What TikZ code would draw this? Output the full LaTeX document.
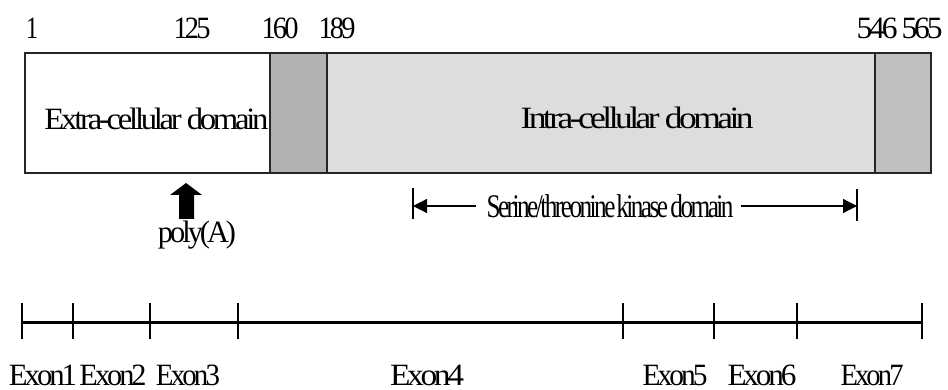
\documentclass[tikz,border=0pt]{standalone}
\usepackage{fontspec}
\setmainfont[LetterSpace=-10]{Liberation Serif}
\usetikzlibrary{arrows.meta}
\definecolor{tmgray}{HTML}{B2B2B2}
\definecolor{tailgray}{HTML}{C0C0C0}
\definecolor{intragray}{HTML}{DDDDDD}
\newcommand{\fitw}[2]{\resizebox{#1}{\height}{#2}}
\tikzset{
  lbl/.style={inner sep=0pt, anchor=base, font=\fontsize{31}{37}\selectfont},
  biglbl/.style={lbl, font=\fontsize{33}{39}\selectfont},
  dombox/.style={draw=black!85, line width=1.3pt},
  tick/.style={line width=1.6pt},
  gene/.style={line width=3pt},
  dimarrow/.style={line width=1.2pt, -{Triangle[length=14pt,width=14pt]}},
  bar/.style={line width=1.3pt}
}
\begin{document}
\begin{tikzpicture}[x=1pt,y=-1pt]
\useasboundingbox (0,0) rectangle (948,390);
% position numbers
\node[lbl] (n1)   at (32,39)  {\fitw{12pt}{1}};
\node[lbl] (n125) at (192,39) {\fitw{37pt}{125}};
\node[lbl] (n160) at (280,39) {\fitw{37pt}{160}};
\node[lbl] (n189) at (337,39) {\fitw{37pt}{189}};
\node[lbl] (n546) at (877,39) {\fitw{41pt}{546}};
\node[lbl] (n565) at (922,39) {\fitw{41pt}{565}};
% domain boxes
\filldraw[dombox, fill=white]      (25,53)  rectangle (270,173);
\filldraw[dombox, fill=tmgray]     (270,53) rectangle (327,173);
\filldraw[dombox, fill=intragray]  (327,53) rectangle (875,173);
\filldraw[dombox, fill=tailgray]   (875,53) rectangle (931,173);
\node[lbl] (extra) at (156.5,130) {\fitw{224pt}{Extra-cellular domain}};
\node[lbl] (intra) at (637,129)   {\fitw{233pt}{Intra-cellular domain}};
% poly(A) arrow
\fill[black] (186,183) -- (202,195) -- (194,195) -- (194,219) -- (179,219) -- (179,195) -- (170,195) -- cycle;
\node[lbl] (polyA) at (197,243) {\fitw{78pt}{poly(A)}};
% kinase domain
\coordinate (kL) at (413,206);
\coordinate (kR) at (857,206);
\draw[bar] (413,188) -- (413,219);
\draw[bar] (857,189) -- (857,221);
\node[biglbl] (ser) at (610,218) {\fitw{247pt}{Serine/threonine\kern1pt kinase\kern3pt domain}};
\draw[dimarrow] ([xshift=-10pt]ser.west |- kL) -- (kL);
\draw[dimarrow] ([xshift=7pt]ser.east |- kR) -- (kR);
% exon line
\coordinate (t0) at (22,322);
\coordinate (t1) at (73,322);
\coordinate (t2) at (150,322);
\coordinate (t3) at (238,322);
\coordinate (t4) at (623,322);
\coordinate (t5) at (714,322);
\coordinate (t6) at (797,322);
\coordinate (t7) at (922,322);
\draw[gene] (t0) -- (t7);
\foreach \t in {t0,t1,t2,t3,t4,t5,t6,t7}
  \draw[tick] ([yshift=-17pt]\t) -- ([yshift=19pt]\t);
\node[lbl] (e1) at (43,385)  {\fitw{68pt}{Exon1}};
\node[lbl] (e2) at (113,385) {\fitw{67pt}{Exon2}};
\node[lbl] (e3) at (188,385) {\fitw{64pt}{Exon3}};
\node[lbl] (e4) at (427,385) {\fitw{74pt}{Exon4}};
\node[lbl] (e5) at (675,385) {\fitw{65pt}{Exon5}};
\node[lbl] (e6) at (762,385) {\fitw{69pt}{Exon6}};
\node[lbl] (e7) at (872,385) {\fitw{63pt}{Exon7}};
\end{tikzpicture}
\end{document}
